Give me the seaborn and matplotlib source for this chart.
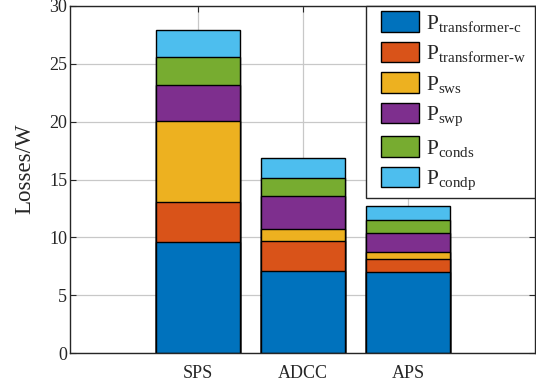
import matplotlib
matplotlib.use("Agg")
import matplotlib.pyplot as plt
import seaborn as sns
import numpy as np
from matplotlib.patches import Patch, Rectangle
from matplotlib.legend_handler import HandlerPatch

categories = ["SPS", "ADCC", "APS"]
series_names = ["transformer-c", "transformer-w", "sws", "swp", "conds", "condp"]
p_transformer_c = [9.62, 7.09, 7.00]
p_transformer_w = [3.40, 2.59, 1.15]
p_sws = [7.06, 1.06, 0.55]
p_swp = [3.12, 2.86, 1.65]
p_conds = [2.36, 1.57, 1.18]
p_condp = [2.34, 1.68, 1.18]
colors = ["#0072BD", "#D95319", "#EDB120", "#7E2F8E", "#77AC30", "#4DBEEE"]
y_ticks = [0, 5, 10, 15, 20, 25, 30]

sns.set_theme(style="ticks")
plt.rcParams["font.family"] = ["Liberation Serif", "DejaVu Serif"]
plt.rcParams["mathtext.fontset"] = "custom"
plt.rcParams["mathtext.rm"] = "Liberation Serif"
plt.rcParams["mathtext.it"] = "Liberation Serif:italic"
plt.rcParams["mathtext.bf"] = "Liberation Serif:bold"

fig = plt.figure(figsize=(5.36, 3.89), dpi=100)
ax = fig.add_axes([70 / 536, 1 - 353 / 389, 465 / 536, 347 / 389])

layers = [p_transformer_c, p_transformer_w, p_sws, p_swp, p_conds, p_condp]
cum = np.cumsum(np.array(layers), axis=0)

for k in range(len(layers) - 1, -1, -1):
    sns.barplot(x=categories, y=cum[k], color=colors[k], saturation=1,
                edgecolor="black", linewidth=1.0, width=0.8, errorbar=None, ax=ax)

ax.set_xlim(-1.22, 3.21)
ax.set_ylim(0, 30)
ax.set_yticks(y_ticks)
ax.set_axisbelow(True)
ax.grid(True, color="#c8c8c8", linewidth=0.9)
for s in ax.spines.values():
    s.set_color("#262626")
    s.set_linewidth(1.0)
ax.tick_params(direction="in", length=4, width=0.8, top=True, right=True,
               labelsize=13, colors="#262626")
ax.tick_params(axis="x", pad=9)
ax.tick_params(axis="y", pad=2)
ax.set_ylabel("Losses/W", fontsize=16.5, color="#262626")
ax.yaxis.set_label_coords(-0.075, 0.53)
ax.set_xlabel("")

SHIFT = 7.2  # points of extra left space before each legend swatch


def shifted_patch(legend, orig_handle, xdescent, ydescent, width, height, fontsize):
    return Rectangle((-xdescent + SHIFT, -ydescent), width - SHIFT, height)


handles = [Patch(facecolor=c, edgecolor="black", linewidth=1.0) for c in colors]
labels = [r"$\mathrm{P}_{\text{%s}}$" % n for n in series_names]
x0 = (366 - 70) / 465
leg = ax.legend(handles, labels, loc="upper right", borderaxespad=0,
                bbox_to_anchor=(x0, 0, 1 - x0, 1), mode="expand",
                handler_map={Patch: HandlerPatch(patch_func=shifted_patch)},
                fontsize=15.5, frameon=True, fancybox=False, framealpha=1,
                edgecolor="#262626", handlelength=2.23, handleheight=1.08,
                handletextpad=0.33, labelspacing=0.37, borderpad=0.25)
leg.get_frame().set_linewidth(1.0)

fig.savefig("out.png", dpi=100)
